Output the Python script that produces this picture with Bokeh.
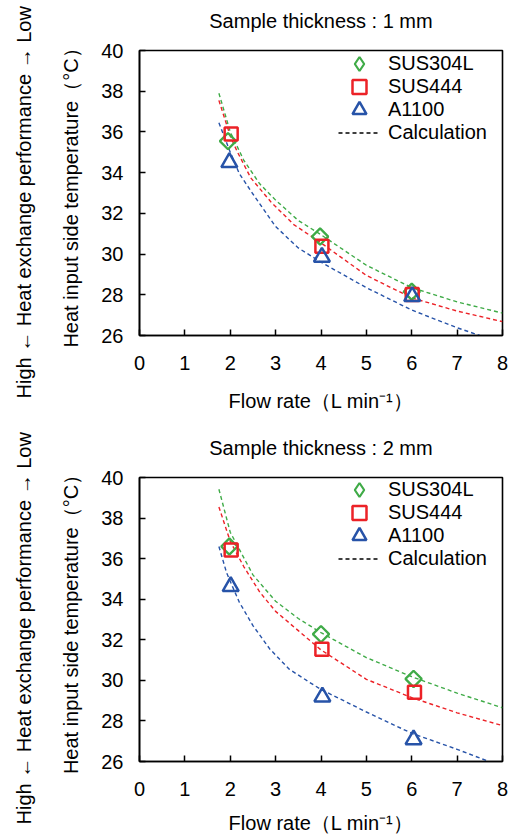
import math
from bokeh.plotting import figure
from bokeh.models import (Range1d, LinearAxis, FixedTicker, Legend, LegendItem, Title)
from bokeh.layouts import column
from bokeh.embed import file_html
from bokeh.resources import INLINE

# ---------------- data ----------------
materials = ["SUS304L", "SUS444", "A1100"]
x_ticks = [0, 1, 2, 3, 4, 5, 6, 7, 8]
y_ticks = [26, 28, 30, 32, 34, 36, 38, 40]

# Sample thickness 1 mm : measured points
t1_sus304l_x = [1.95, 3.98, 6.00]
t1_sus304l_y = [35.55, 30.86, 28.15]
t1_sus444_x = [2.02, 4.02, 6.01]
t1_sus444_y = [35.90, 30.39, 28.01]
t1_a1100_x = [1.98, 4.02, 6.01]
t1_a1100_y = [34.50, 29.85, 27.92]

# Sample thickness 1 mm : calculation curves
c1_sus304l_x = [1.75, 2.0, 2.3, 2.65, 3.0, 3.5, 4.0, 5.0, 6.0, 7.0, 8.0]
c1_sus304l_y = [37.9, 36.0, 34.6, 33.45, 32.65, 31.65, 30.95, 29.45, 28.35, 27.65, 27.1]
c1_sus444_x = [1.75, 2.0, 2.15, 2.45, 2.9, 3.4, 4.0, 5.0, 6.0, 7.0, 8.0]
c1_sus444_y = [37.55, 35.8, 35.05, 33.75, 32.55, 31.45, 30.55, 28.95, 27.85, 27.2, 26.68]
c1_a1100_x = [1.75, 2.0, 2.2, 2.5, 3.0, 3.5, 4.0, 5.0, 6.0, 7.0, 7.5]
c1_a1100_y = [36.45, 35.0, 33.95, 32.95, 31.35, 30.3, 29.6, 28.35, 27.25, 26.38, 26.0]

# Sample thickness 2 mm : measured points
t2_sus304l_x = [1.98, 4.00, 6.04]
t2_sus304l_y = [36.60, 32.28, 30.07]
t2_sus444_x = [2.02, 4.02, 6.06]
t2_sus444_y = [36.42, 31.53, 29.41]
t2_a1100_x = [2.01, 4.03, 6.04]
t2_a1100_y = [34.63, 29.19, 27.08]

# Sample thickness 2 mm : calculation curves
c2_sus304l_x = [1.75, 2.0, 2.5, 3.0, 3.5, 4.0, 5.0, 6.0, 7.0, 8.0]
c2_sus304l_y = [39.42, 37.3, 35.2, 33.9, 33.05, 32.35, 31.12, 30.18, 29.37, 28.65]
c2_sus444_x = [1.75, 2.0, 2.3, 2.65, 3.0, 3.5, 4.0, 5.0, 6.0, 7.0, 8.0]
c2_sus444_y = [38.55, 36.85, 35.6, 34.35, 33.4, 32.45, 31.5, 30.05, 29.15, 28.4, 27.77]
c2_a1100_x = [1.75, 1.92, 2.2, 2.5, 2.87, 3.3, 3.75, 4.0, 5.0, 6.0, 7.0, 7.7]
c2_a1100_y = [36.6, 35.3, 33.85, 32.7, 31.55, 30.55, 29.9, 29.55, 28.44, 27.39, 26.6, 26.0]

# ---------------- style ----------------
GREEN = "#3fab47"
RED = "#ec2227"
BLUE = "#2753a8"
FONT = "Liberation Sans"
FS = "20px"


def style_axis(ax, ticks, standoff):
    ax.ticker = FixedTicker(ticks=ticks)
    ax.major_tick_in = 6
    ax.major_tick_out = 0
    ax.minor_tick_in = 0
    ax.minor_tick_out = 0
    ax.axis_line_width = 1.6
    ax.major_tick_line_width = 1.5
    ax.major_label_text_font = FONT
    ax.major_label_text_font_size = FS
    ax.major_label_text_color = "black"
    ax.axis_label_text_font = FONT
    ax.axis_label_text_font_size = FS
    ax.axis_label_text_font_style = "normal"
    ax.axis_label_text_color = "black"
    ax.major_label_standoff = standoff


def label_axis(text, standoff):
    return LinearAxis(ticker=FixedTicker(ticks=[]),
                      axis_label=text,
                      axis_line_color=None,
                      major_tick_in=0, major_tick_out=0,
                      minor_tick_in=0, minor_tick_out=0,
                      major_label_text_font_size="0px",
                      major_label_standoff=0,
                      axis_label_standoff=standoff,
                      axis_label_text_font=FONT,
                      axis_label_text_font_size=FS,
                      axis_label_text_font_style="normal",
                      axis_label_text_color="black")


def side_title(text, align, standoff, offset):
    return Title(text=text, align=align, vertical_align="top",
                 standoff=standoff, offset=offset,
                 text_font=FONT, text_font_size=FS, text_font_style="normal",
                 text_color="black")


def make_panel(title, pts, curves, height, top, bottom, xlab_standoff):
    p = figure(width=512, height=height, title=None,
               x_range=Range1d(0, 8), y_range=Range1d(26, 40),
               output_backend="svg", toolbar_location=None,
               min_border_left=139, min_border_right=10,
               min_border_top=top, min_border_bottom=bottom)
    p.xgrid.visible = False
    p.ygrid.visible = False
    p.outline_line_color = "black"
    p.outline_line_width = 1.6
    p.outline_line_alpha = 1.0

    style_axis(p.xaxis[0], x_ticks, 20)
    style_axis(p.yaxis[0], y_ticks, 16)
    p.xaxis.axis_label = "Flow rate\uff08L min\u207b\u00b9\uff09"
    p.xaxis.axis_label_standoff = xlab_standoff

    p.add_layout(label_axis(title, 19), "above")
    p.add_layout(side_title("Heat input side temperature\uff08\u00b0C\uff09",
                            "center", 30, 0), "left")
    p.add_layout(side_title("High \u2190 Heat exchange performance \u2192 Low",
                            "left", 16, -63), "left")

    (g_x, g_y), (r_x, r_y), (b_x, b_y) = curves
    p.line(g_x, g_y, line_color=GREEN, line_width=1.4, line_dash="4 3")
    p.line(r_x, r_y, line_color=RED, line_width=1.4, line_dash="4 3")
    p.line(b_x, b_y, line_color=BLUE, line_width=1.4, line_dash="4 3")

    (dx, dy), (sx, sy), (tx, ty) = pts
    p.scatter(dx, dy, marker="square", angle=math.pi / 4, size=11.5,
              fill_color=None, line_color=GREEN, line_width=2.3)
    rs = p.scatter(sx, sy, marker="square", size=13,
                   fill_color=None, line_color=RED, line_width=2.5)
    rt = p.scatter(tx, ty, marker="triangle", size=16,
                   fill_color=None, line_color=BLUE, line_width=2.5)
    # legend-only renderers (hidden in the plot, drawn only as legend keys)
    rd_leg = p.scatter(dx, dy, marker="diamond", size=14, visible=False,
                       fill_color=None, line_color=GREEN, line_width=2.2)
    rc_leg = p.line(g_x, g_y, line_color="black", line_width=1.4, line_dash="4 3",
                    visible=False)

    entries = [(materials[0], rd_leg), (materials[1], rs), (materials[2], rt),
               ("Calculation", rc_leg)]
    for i, (lab, rend) in enumerate(entries):
        lg = Legend(items=[LegendItem(label=lab, renderers=[rend])],
                    location=(199, 254 - 23 * i), padding=0, spacing=0, margin=0,
                    glyph_width=42, glyph_height=35, label_height=23,
                    label_standoff=8, label_text_font=FONT,
                    label_text_font_size=FS, label_text_color="black",
                    border_line_color=None, background_fill_alpha=0,
                    inactive_fill_alpha=0)
        p.add_layout(lg)
    return p


p1 = make_panel("Sample thickness : 1 mm",
                [(t1_sus304l_x, t1_sus304l_y), (t1_sus444_x, t1_sus444_y), (t1_a1100_x, t1_a1100_y)],
                [(c1_sus304l_x, c1_sus304l_y), (c1_sus444_x, c1_sus444_y), (c1_a1100_x, c1_a1100_y)],
                height=414, top=50, bottom=77, xlab_standoff=17)
p2 = make_panel("Sample thickness : 2 mm",
                [(t2_sus304l_x, t2_sus304l_y), (t2_sus444_x, t2_sus444_y), (t2_a1100_x, t2_a1100_y)],
                [(c2_sus304l_x, c2_sus304l_y), (c2_sus444_x, c2_sus444_y), (c2_a1100_x, c2_a1100_y)],
                height=422, top=63, bottom=73, xlab_standoff=13)

layout = column(p1, p2, spacing=0)
open("out.html", "w").write(file_html(layout, INLINE))
